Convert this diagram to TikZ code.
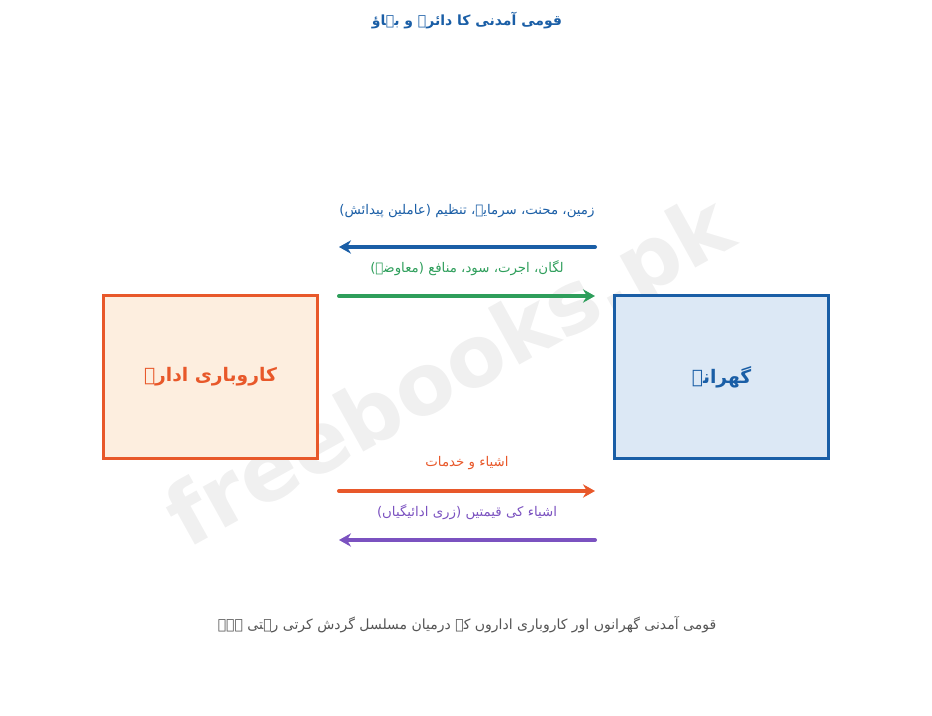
\documentclass[tikz,border=0pt]{standalone}
\usepackage{fontspec}
\TeXXeTstate=1
\newfontfamily\arabicfont[Script=Arabic]{DejaVu Sans}
\setmainfont{DejaVu Sans}
\usetikzlibrary{arrows.meta}
\definecolor{cblue}{HTML}{1A5EA6}
\definecolor{cbluefill}{HTML}{DCE8F5}
\definecolor{corange}{HTML}{E8582A}
\definecolor{corangefill}{HTML}{FDEEDF}
\definecolor{cgreen}{HTML}{2E9E5B}
\definecolor{cpurple}{HTML}{7B52C0}
\definecolor{cgray}{HTML}{555555}
\newcommand{\ur}[1]{{\arabicfont\beginR #1\endR}}
\begin{document}
\begin{tikzpicture}[x=0.75pt,y=-0.75pt,
  box/.style={draw,line width=2.4pt,minimum width=160.5pt,minimum height=122pt,inner sep=0pt},
  flow/.style={line width=3pt,line cap=round,-{Stealth[length=9pt,width=10pt]}},
  lbl/.style={font=\fontsize{10}{12}\selectfont,inner sep=0pt}]
\useasboundingbox (0,0) rectangle (932,716);
\node[rotate=29,text=black!6,font=\fontsize{64}{70}\bfseries\selectfont] (wm) at (452,376) {freebooks.pk};
\node[text=cblue,font=\fontsize{10.5}{13}\bfseries\selectfont] (title) at (467,21) {\ur{قومی آمدنی کا دائرہ و بہاؤ}};
\node[box,draw=corange,fill=corangefill,text=corange,font=\fontsize{14}{16}\bfseries\selectfont] (biz) at (210.5,377) {\ur{کاروباری ادارے}};
\node[box,draw=cblue,fill=cbluefill,text=cblue,font=\fontsize{14}{16}\bfseries\selectfont] (home) at (721.5,377) {\ur{گھرانے}};
\coordinate (a1s) at (595,247); \coordinate (a1e) at (339,247);
\coordinate (a2s) at (339,296); \coordinate (a2e) at (595,296);
\coordinate (a3s) at (339,491); \coordinate (a3e) at (595,491);
\coordinate (a4s) at (595,540); \coordinate (a4e) at (339,540);
\draw[flow,draw=cblue] (a1s) -- (a1e);
\draw[flow,draw=cgreen] (a2s) -- (a2e);
\draw[flow,draw=corange] (a3s) -- (a3e);
\draw[flow,draw=cpurple] (a4s) -- (a4e);
\node[lbl,text=cblue] (l1) at (467,211) {\ur{زمین، محنت، سرمایہ، تنظیم (عاملین پیدائش)}};
\node[lbl,text=cgreen] (l2) at (467,268) {\ur{لگان، اجرت، سود، منافع (معاوضے)}};
\node[lbl,text=corange] (l3) at (467,463) {\ur{اشیاء و خدمات}};
\node[lbl,text=cpurple] (l4) at (467,512) {\ur{اشیاء کی قیمتیں (زری ادائیگیاں)}};
\node[lbl,text=cgray,font=\fontsize{10.5}{13}\selectfont] (foot) at (467,625) {\ur{قومی آمدنی گھرانوں اور کاروباری اداروں کے درمیان مسلسل گردش کرتی رہتی ہے۔}};
\end{tikzpicture}
\end{document}
